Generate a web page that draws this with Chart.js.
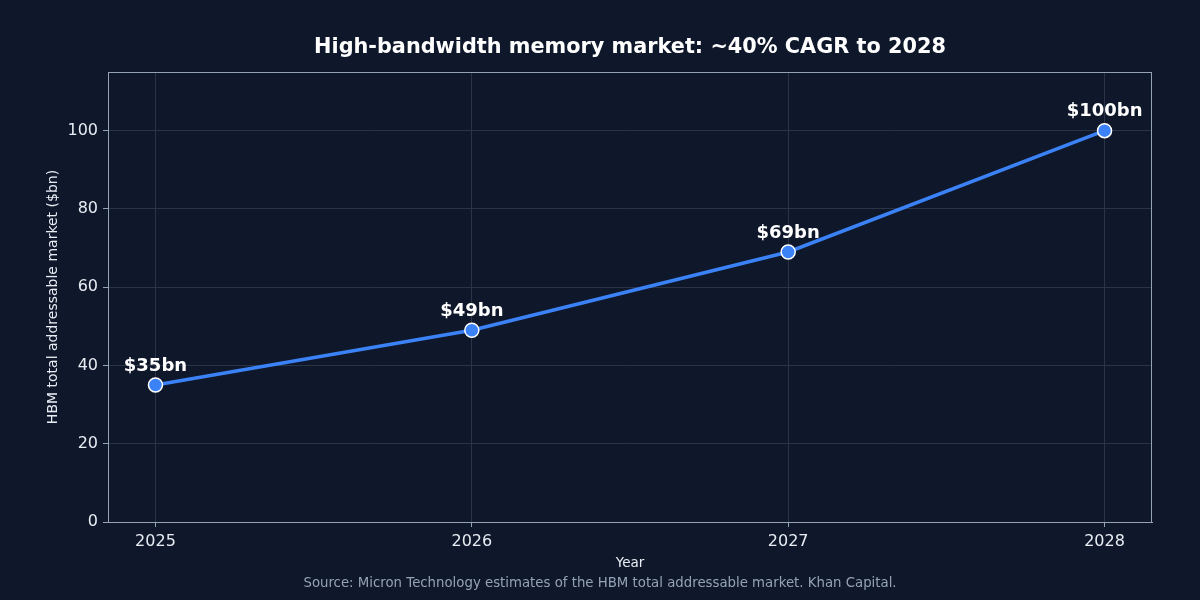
<!DOCTYPE html>
<html>
<head>
<meta charset="utf-8">
<script src="https://cdn.jsdelivr.net/npm/chart.js@4.4.1/dist/chart.umd.min.js"></script>
<style>
html,body{margin:0;padding:0;background:#0f172a;}
canvas{display:block;}
</style>
</head>
<body>
<canvas id="c" width="1200" height="600"></canvas>
<script>
const years = [2025, 2026, 2027, 2028];
const values = [35, 49, 69, 100];
const pointLabels = ['$35bn', '$49bn', '$69bn', '$100bn'];
const yTicks = [0, 20, 40, 60, 80, 100];
const titleText = 'High-bandwidth memory market: ~40% CAGR to 2028';
const xTitle = 'Year';
const yTitle = 'HBM total addressable market ($bn)';
const sourceText = 'Source: Micron Technology estimates of the HBM total addressable market. Khan Capital.';

const FONT = '"DejaVu Sans", sans-serif';
const BG = '#0f172a';
const FRAME = '#94a3b8';
const GRID = '#2a3446';
const TEXT = '#e8edf4';

const decor = {
  id: 'decor',
  beforeDraw(chart) {
    const ctx = chart.ctx;
    ctx.save();
    ctx.fillStyle = BG;
    ctx.fillRect(0, 0, chart.width, chart.height);
    ctx.restore();
  },
  afterDatasetsDraw(chart) {
    const ctx = chart.ctx;
    const a = chart.chartArea;
    ctx.save();
    ctx.strokeStyle = FRAME;
    ctx.lineWidth = 1;
    ctx.strokeRect(a.left + 0.5, a.top + 0.5, a.right - a.left - 1, a.bottom - a.top);
    const meta = chart.getDatasetMeta(0);
    ctx.fillStyle = '#ffffff';
    ctx.font = 'bold 18px ' + FONT;
    ctx.textAlign = 'center';
    ctx.textBaseline = 'middle';
    meta.data.forEach((pt, i) => {
      ctx.fillText(pointLabels[i], pt.x, pt.y - 19);
    });
    ctx.font = 'bold 20.8px ' + FONT;
    ctx.fillText(titleText, (a.left + a.right) / 2, 48);
    ctx.fillStyle = TEXT;
    ctx.font = '13.5px ' + FONT;
    ctx.fillText(xTitle, (a.left + a.right) / 2, 563);
    ctx.save();
    ctx.translate(53, (a.top + a.bottom) / 2);
    ctx.rotate(-Math.PI / 2);
    ctx.font = '14px ' + FONT;
    ctx.fillText(yTitle, 0, 0);
    ctx.restore();
    ctx.fillStyle = '#94a3b8';
    ctx.font = '13.3px ' + FONT;
    ctx.fillText(sourceText, chart.width / 2, 584);
    ctx.restore();
  }
};

new Chart(document.getElementById('c'), {
  type: 'line',
  data: {
    datasets: [{
      data: years.map((y, i) => ({ x: y, y: values[i] })),
      borderColor: '#3b82f6',
      borderWidth: 3.5,
      backgroundColor: '#3b82f6',
      pointBackgroundColor: '#3b82f6',
      pointBorderColor: '#ffffff',
      pointBorderWidth: 1.5,
      pointRadius: 7,
      pointHoverRadius: 7,
      tension: 0,
      fill: false
    }]
  },
  options: {
    responsive: false,
    devicePixelRatio: 1,
    animation: false,
    layout: { padding: { left: 0, right: 48, top: 72, bottom: 0 } },
    plugins: {
      legend: { display: false },
      title: { display: false },
      tooltip: { enabled: false }
    },
    scales: {
      x: {
        type: 'linear',
        min: 2024.85,
        max: 2028.15,
        afterBuildTicks(scale) { scale.ticks = years.map(v => ({ value: v })); },
        afterFit(scale) { scale.height = 78; },
        grid: { color: GRID, tickColor: FRAME, tickLength: 5, lineWidth: 1, drawOnChartArea: true },
        border: { display: true, color: FRAME },
        ticks: {
          color: TEXT,
          font: { family: FONT, size: 16 },
          padding: 5,
          maxRotation: 0,
          callback: v => String(v)
        }
      },
      y: {
        type: 'linear',
        min: 0,
        max: 115,
        afterBuildTicks(scale) { scale.ticks = yTicks.map(v => ({ value: v })); },
        afterFit(scale) { scale.width = 108; },
        grid: { color: GRID, tickColor: FRAME, tickLength: 5, lineWidth: 1 },
        border: { display: true, color: FRAME },
        ticks: {
          color: TEXT,
          font: { family: FONT, size: 16 },
          padding: 5,
          callback: v => String(v)
        }
      }
    }
  },
  plugins: [decor]
});
</script>
</body>
</html>
